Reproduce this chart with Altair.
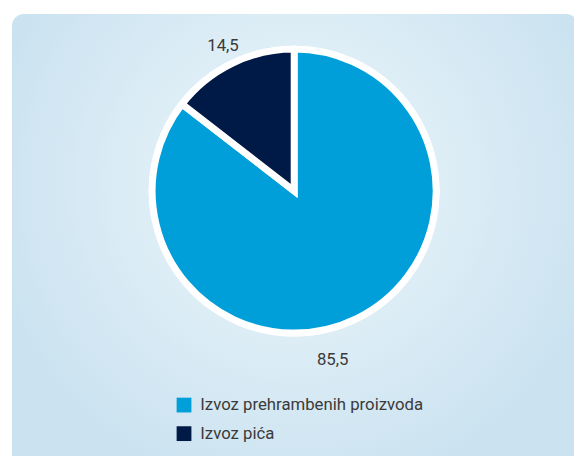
import altair as alt
import pandas as pd

categories = ["Izvoz prehrambenih proizvoda", "Izvoz pića"]
values = [85.5, 14.5]
labels = ["85,5", "14,5"]
order = [1, 2]
colors = ["#009fda", "#001a47"]

df = pd.DataFrame({"cat": categories, "val": values, "lab": labels, "ord": order})

W, H = 574, 448
CX, CY = 290.2, 182.5

bg = alt.Chart(pd.DataFrame({"a": [0]})).mark_rect(
    cornerRadius=12,
    strokeWidth=0,
    fill={
        "gradient": "radial",
        "x1": 0.5, "y1": 0.4, "r1": 0,
        "x2": 0.5, "y2": 0.4, "r2": 0.55,
        "stops": [
            {"offset": 0, "color": "#eef7fc"},
            {"offset": 1, "color": "#cbe3f0"},
        ],
    },
).encode(x=alt.value(4), x2=alt.value(W + 4), y=alt.value(3), y2=alt.value(H + 14))

ring = alt.Chart(pd.DataFrame({"a": [0]})).mark_arc(
    radius=147.5, theta=0, theta2=6.2832, fill="white"
).encode(x=alt.value(CX), y=alt.value(CY))

pie = alt.Chart(df).mark_arc(radius=144, stroke="white", strokeWidth=7).encode(
    theta=alt.Theta("val:Q", stack=True),
    order=alt.Order("ord:Q"),
    color=alt.Color(
        "cat:N",
        scale=alt.Scale(domain=categories, range=colors),
        legend=alt.Legend(
            title=None,
            orient="none",
            legendX=170,
            legendY=391,
            symbolType="square",
            symbolSize=225,
            symbolStrokeWidth=0,
            labelFontSize=17,
            labelFont="Roboto",
            labelColor="#3a3a3a",
            labelOffset=8,
            labelLimit=0,
            rowPadding=11,
            padding=0,
        ),
    ),
    x=alt.value(CX),
    y=alt.value(CY),
)

def label_layer(which, radius, dx, dy):
    return alt.Chart(df).mark_text(
        radius=radius, fontSize=17, font="Roboto", color="#3a3a3a",
        align="center", baseline="middle", dx=dx, dy=dy,
    ).encode(
        theta=alt.Theta("val:Q", stack=True),
        order=alt.Order("ord:Q"),
        text=alt.condition(alt.datum.ord == which, "lab:N", alt.value("")),
        x=alt.value(CX),
        y=alt.value(CY),
    )

t1 = label_layer(2, 164, 0, 0)
t2 = label_layer(1, 173, -37, 16)

chart = alt.layer(bg, ring, pie, t1, t2).properties(
    width=W, height=H, autosize=alt.AutoSizeParams(type="none"), padding=0
).configure_view(stroke=None, strokeWidth=0)

chart.save("out.html", embed_options={"renderer": "svg", "actions": False})
